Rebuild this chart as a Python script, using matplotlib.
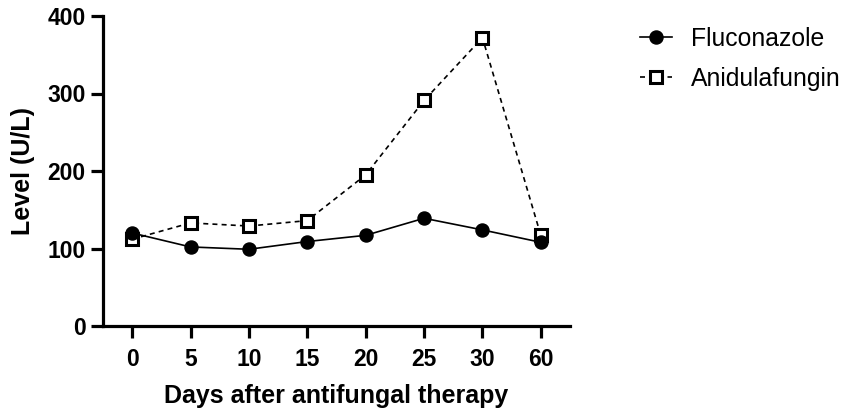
import matplotlib
matplotlib.use("Agg")
import matplotlib.pyplot as plt

plt.rcParams['font.family'] = ['Liberation Sans', 'DejaVu Sans']

days = ["0", "5", "10", "15", "20", "25", "30", "60"]
fluconazole = [120, 102, 99, 109, 117, 139, 124, 108]
anidulafungin = [112, 133, 129, 136, 195, 291, 372, 117]
yticks = [0, 100, 200, 300, 400]

fig = plt.figure(figsize=(8.5, 4.09), dpi=100)
ax = fig.add_axes([103/850, 1-326/409, 467/850, 310/409])

x = list(range(len(days)))
ax.plot(x, fluconazole, color='black', linestyle='-', linewidth=1.2,
        marker='o', markersize=9.4, markerfacecolor='black', markeredgecolor='black',
        label='Fluconazole', zorder=4)
ax.plot(x, anidulafungin, color='black', linestyle=(0, (3, 2.5)), linewidth=1.2,
        marker='s', markersize=8.2, markerfacecolor='white', markeredgecolor='black',
        markeredgewidth=2.2, label='Anidulafungin', zorder=3)

ax.set_xlim(-0.5, 7.5)
ax.set_ylim(0, 400)
ax.set_xticks(x)
ax.set_xticklabels(days)
ax.set_yticks(yticks)

for s in ['top', 'right']:
    ax.spines[s].set_visible(False)
for s in ['left', 'bottom']:
    ax.spines[s].set_linewidth(2.3)

ax.tick_params(axis='both', direction='out', length=8.5, width=2.3, labelsize=16.5)
ax.tick_params(axis='x', pad=7)
ax.tick_params(axis='y', pad=4)
for lab in ax.get_xticklabels() + ax.get_yticklabels():
    lab.set_fontweight('bold')

ax.set_xlabel('Days after antifungal therapy', fontsize=18, fontweight='bold', labelpad=10)
ax.set_ylabel('Level (U/L)', fontsize=18, fontweight='bold', labelpad=9)

leg = ax.legend(loc='upper left', bbox_to_anchor=(1.15, 0.965), frameon=False,
                fontsize=17.8, handlelength=1.3, handletextpad=0.75, labelspacing=0.65,
                borderpad=0, borderaxespad=0)

fig.savefig('out.png', dpi=100)
